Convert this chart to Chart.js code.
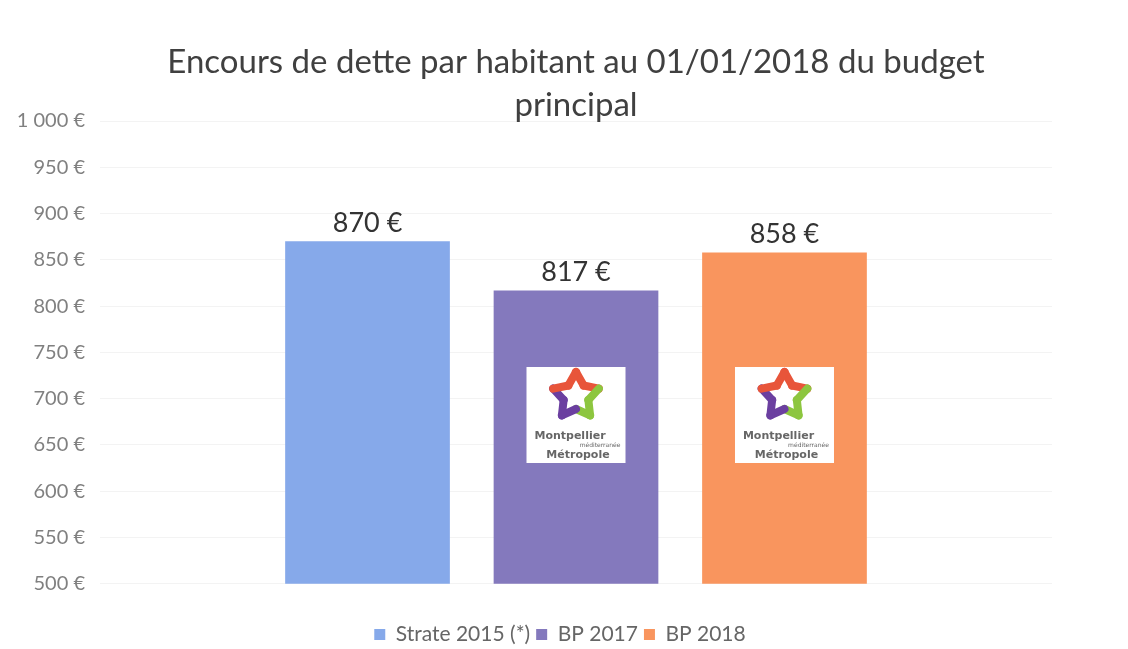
<!DOCTYPE html>
<html>
<head>
<meta charset="utf-8">
<script src="https://cdn.jsdelivr.net/npm/chart.js@4/dist/chart.umd.min.js"></script>
<style>
  html, body { margin: 0; padding: 0; background: #fff; }
  #wrap { width: 1128px; height: 649px; }
</style>
</head>
<body>
<div id="wrap"><canvas id="chart"></canvas></div>
<script>
// données
var categories = [''];
var seriesNames = ['Strate 2015 (*)', 'BP 2017', 'BP 2018'];
var seriesValues = [870, 817, 858];
var seriesColors = ['#86a9ea', '#8479bd', '#f9955e'];
var withLogo = [false, true, true];
var titleLines = ['Encours de dette par habitant au 01/01/2018 du budget', 'principal'];
var yMin = 500, yMax = 1000, yStep = 50;

function euro(v) {
    var s = String(v);
    if (v >= 1000) s = s.slice(0, s.length - 3) + ' ' + s.slice(-3);
    return s + ' €';
}

var titlePlugin = {
    id: 'titreDessin',
    afterDraw: function(chart) {
        var ctx = chart.ctx;
        ctx.save();
        ctx.fillStyle = '#404040';
        ctx.font = '33px Lato, "Liberation Sans", sans-serif';
        ctx.textAlign = 'center';
        ctx.textBaseline = 'middle';
        var cx = (chart.chartArea.left + chart.chartArea.right) / 2;
        ctx.fillText(titleLines[0], cx, 62);
        ctx.fillText(titleLines[1], cx, 105);
        ctx.restore();
    }
};

var valuePlugin = {
    id: 'valeurs',
    afterDatasetsDraw: function(chart) {
        var ctx = chart.ctx;
        ctx.save();
        ctx.fillStyle = '#333333';
        ctx.font = '27px Lato, "Liberation Sans", sans-serif';
        ctx.textAlign = 'center';
        ctx.textBaseline = 'bottom';
        chart.data.datasets.forEach(function(ds, i) {
            var bar = chart.getDatasetMeta(i).data[0];
            ctx.fillText(euro(ds.data[0]), bar.x, bar.y - 5);
        });
        ctx.restore();
    }
};

// légende un peu décalée vers la droite comme dans l'original
var legendShift = {
    id: 'decalageLegende',
    afterLayout: function(chart) {
        if (chart.legend) chart.legend.left += 66;
    }
};

function drawLogo(ctx, cx, top) {
    var w = 99, h = 96;
    ctx.fillStyle = '#ffffff';
    ctx.fillRect(cx - w / 2, top, w, h);
    // étoile
    var sx = cx, sy = top + 29, R = 24, r = 13;
    var pts = [];
    for (var k = 0; k < 10; k++) {
        var a = -Math.PI / 2 + k * Math.PI / 5;
        var rr = k % 2 === 0 ? R : r;
        pts.push([sx + rr * Math.cos(a), sy + rr * Math.sin(a)]);
    }
    var cols = ['#e8553a', '#e8553a', '#8dc63f', '#8dc63f', '#8dc63f', '#6b3fa0', '#6b3fa0', '#6b3fa0', '#e8553a', '#e8553a'];
    ctx.lineWidth = 8;
    ctx.lineCap = 'round';
    ctx.lineJoin = 'round';
    for (var j = 0; j < 10; j++) {
        var p = pts[j], q = pts[(j + 1) % 10];
        ctx.strokeStyle = cols[j];
        ctx.beginPath();
        ctx.moveTo(p[0], p[1]);
        ctx.lineTo(q[0], q[1]);
        ctx.stroke();
    }
    ctx.fillStyle = '#666666';
    ctx.textAlign = 'center';
    ctx.textBaseline = 'middle';
    ctx.font = 'bold 11px "DejaVu Sans", sans-serif';
    ctx.fillText('Montpellier', cx - 6, top + 69);
    ctx.font = '6px "DejaVu Sans", sans-serif';
    ctx.fillText('méditerranée', cx + 24, top + 78);
    ctx.font = 'bold 11px "DejaVu Sans", sans-serif';
    ctx.fillText('Métropole', cx + 2, top + 88);
}

var logoPlugin = {
    id: 'logos',
    afterDatasetsDraw: function(chart) {
        var ctx = chart.ctx;
        ctx.save();
        chart.data.datasets.forEach(function(ds, i) {
            if (!withLogo[i]) return;
            var bar = chart.getDatasetMeta(i).data[0];
            drawLogo(ctx, bar.x, chart.chartArea.top + 246);
        });
        ctx.restore();
    }
};

var datasets = seriesNames.map(function(name, i) {
    return {
        label: name,
        data: [seriesValues[i]],
        backgroundColor: seriesColors[i],
        borderWidth: 0,
        barPercentage: 0.79,
        categoryPercentage: 0.657
    };
});

new Chart(document.getElementById('chart').getContext('2d'), {
    type: 'bar',
    data: { labels: categories, datasets: datasets },
    options: {
        responsive: true,
        maintainAspectRatio: false,
        animation: false,
        layout: { padding: { top: 121, right: 76, left: 2, bottom: -6 } },
        scales: {
            x: { display: false },
            y: {
                min: yMin,
                max: yMax,
                border: { display: false },
                grid: { color: '#f3f3f3', drawTicks: false },
                afterFit: function(scale) { scale.width = 98; },
                ticks: {
                    stepSize: yStep,
                    padding: 15,
                    color: '#808080',
                    font: { family: 'Lato, "Liberation Sans", sans-serif', size: 20 },
                    callback: function(v) { return euro(v); }
                }
            }
        },
        plugins: {
            title: { display: false },
            tooltip: { enabled: false },
            legend: {
                position: 'bottom',
                title: { display: true, text: ' ', font: { size: 1 }, padding: { top: 0, bottom: 33 } },
                labels: {
                    boxWidth: 11,
                    boxHeight: 11,
                    padding: 6,
                    color: '#666666',
                    font: { family: 'Lato, "Liberation Sans", sans-serif', size: 21 }
                }
            }
        }
    },
    plugins: [titlePlugin, valuePlugin, logoPlugin, legendShift]
});
</script>
</body>
</html>
